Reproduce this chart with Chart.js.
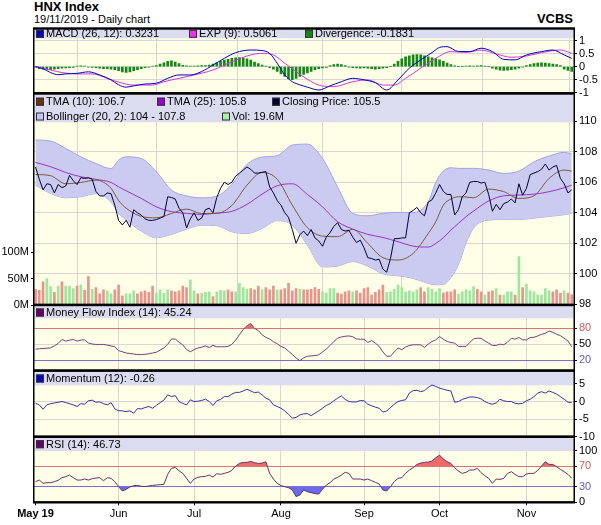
<!DOCTYPE html>
<html>
<head>
<meta charset="utf-8">
<script src="https://cdn.jsdelivr.net/npm/chart.js@4.4.1/dist/chart.umd.min.js"></script>
<style>
body { margin: 0; background: #fff; width: 601px; height: 525px; position: relative; overflow: hidden; font-family: "Liberation Sans", Arial, sans-serif; }
canvas { position: absolute; left: 0; }
.t { position: absolute; white-space: nowrap; color: #000; }
</style>
</head>
<body>
<div class="t" style="left:34px;top:-1px;font-weight:bold;font-size:13px">HNX Index</div>
<div class="t" style="left:34px;top:13px;font-size:11px">19/11/2019 - Daily chart</div>
<div class="t" style="right:28px;top:11px;font-weight:bold;font-size:13px">VCBS</div>
<canvas id="cMacd" width="601" height="84" style="top:18px"></canvas>
<canvas id="cMain" width="601" height="230" style="top:84px"></canvas>
<canvas id="cMfi" width="601" height="84" style="top:296px"></canvas>
<canvas id="cMom" width="601" height="84" style="top:362px"></canvas>
<canvas id="cRsi" width="601" height="97" style="top:428px"></canvas>
<script>
// trading day index 0 = 2 May 2019, 142 = 19 Nov 2019
const monthStarts = [0, 22, 42, 65, 87, 107, 130];
const monthLabels = ['May 19', 'Jun', 'Jul', 'Aug', 'Sep', 'Oct', 'Nov'];

const close = [107.0,106.2,105.5,105.9,105.85,105.3,105.85,105.65,105.75,106.45,
  106.1,105.85,106.3,106.25,106.3,106.2,105.4,105.1,105.1,105.3,
  105.25,104.5,103.5,103.2,103.5,103.05,104.2,104.0,103.85,103.6,
  103.5,103.5,103.55,103.65,103.75,105.05,105.0,104.9,104.3,104.0,
  103.0,103.6,104.0,103.5,103.65,104.2,104.3,104.0,105.0,105.6,
  106.0,105.85,106.0,106.4,106.6,106.8,107.0,106.85,106.6,106.6,
  106.65,106.7,105.7,105.3,104.8,104.5,104.0,103.7,102.9,102.0,
  102.55,102.8,102.5,102.9,102.35,102.15,101.8,102.4,102.7,103.1,
  103.35,102.9,102.8,102.85,102.4,102.05,102.2,101.7,101.05,101.0,
  100.9,100.95,100.3,100.1,101.0,102.3,102.3,102.35,102.35,104.0,
  104.15,104.35,104.0,103.8,104.7,104.85,105.3,105.85,105.4,105.2,
  105.2,103.85,104.2,105.05,105.3,106.0,106.05,106.05,105.95,106.0,
  105.2,104.1,104.55,104.2,104.6,104.7,104.9,104.65,105.9,105.15,
  105.6,106.5,106.6,106.7,106.85,107.2,106.8,107.0,107.1,106.25,
  105.9,105.3,105.5];

// smooth overlays read at these day indices
const bandIdx = [0,4,8,12,16,20,22,24,28,32,36,40,44,48,52,56,60,64,68,72,76,80,84,88,92,96,100,104,106,108,110,112,114,116,120,124,128,132,136,140,142];
const bollUpper = [108.77,108.7,108.22,107.67,107.23,106.9,107.45,107.67,107.56,106.69,105.49,105.11,104.98,105.09,105.86,107.17,107.65,107.74,108.44,108.5,107.56,105.7,103.96,103.8,103.96,104.02,104.02,104.72,106.0,106.73,106.95,106.91,106.91,106.91,106.8,106.58,106.73,107.34,107.72,107.96,107.85];
const bollLower = [105.81,105.27,104.98,105.05,105.25,104.7,103.96,103.52,102.8,102.36,102.58,102.93,103.19,103.15,102.75,102.64,102.97,103.48,103.19,101.88,100.45,100.5,100.8,100.5,100.0,99.87,99.7,99.37,99.28,99.3,99.75,100.6,102.0,103.0,103.52,103.56,103.56,103.65,103.76,103.87,103.96];
const tma10 = [106.51,106.43,105.9,105.99,106.14,105.6,104.8,104.3,103.76,103.67,103.95,104.24,103.95,103.96,104.48,105.81,106.64,106.2,104.5,103.02,102.47,102.43,102.91,101.99,101.05,100.9,101.33,102.64,103.41,104.5,104.9,105.05,105.03,104.98,105.55,105.38,104.94,105.11,106.25,106.8,106.73];
const tma25 = [107.3,107.02,106.64,106.36,106.19,105.99,105.7,105.44,104.94,104.39,104.07,103.96,103.89,103.98,104.09,104.55,105.22,105.77,105.9,105.2,104.39,103.41,102.93,102.58,102.38,102.1,101.81,101.75,101.99,102.36,102.86,103.3,103.74,104.11,104.77,105.11,105.16,105.22,105.38,105.64,105.81];

// volume in millions, 1 = up day
const volume = [30,28,44,50,35,24,36,44,36,36,31,36,38,28,54,30,33,21,29,27,21,29,38,17.5,21,21,27,21,25,27,24,36,22,29,22,29,27,25,27,36,33,48,27,21,22,24,25,16,25,28,27,29,25,25,41,33,30,31,29,36,29,33,29,36,29,29,31,41,27,31,30,
  29,29,30,33,30,25,22.5,31,31,22.5,20.6,25,27,25,27,22.5,31,33,19,24,29,37.7,24,25,30,37.7,33,25,27,25,29,33,25,33,30,25,31,22.5,25,25,29,20.6,25,29,27,35,30,25,19,25,27,31,19,19,25,25,19,92,33,40,27,25,19,19,31,27,25,29,22.5,27,22.5,19.6];
const volUp = [0,0,0,1,1,0,1,0,1,1,1,0,1,0,0,1,0,0,0,1,1,0,0,0,1,1,1,0,0,0,0,0,1,1,1,1,0,0,0,0,0,1,1,0,1,1,1,0,1,1,1,0,0,1,1,1,1,0,0,0,1,0,0,0,1,0,0,0,0,0,1,
  0,0,0,0,0,1,1,1,1,0,0,0,0,1,0,0,0,0,0,0,0,0,1,1,1,1,1,1,1,1,1,0,0,1,1,1,1,0,0,0,0,1,1,1,1,1,0,0,1,0,0,1,0,1,1,1,0,1,0,1,1,1,1,1,1,1,0,0,0,1,0,0];

const macdIdx = [0,2,4,6,8,11,14,17,20,22,24,26,29,32,35,38,41,44,47,50,53,57,60,62,64,66,68,70,72,75,78,81,84,87,90,93,96,99,102,105,107,109,112,115,118,121,124,127,130,134,137,140,142];
const macd = [0,-0.08,-0.23,-0.31,-0.28,-0.26,-0.2,-0.32,-0.51,-0.7,-0.79,-0.74,-0.67,-0.64,-0.45,-0.32,-0.32,-0.19,0.06,0.32,0.54,0.64,0.62,0.51,0.13,-0.32,-0.58,-0.7,-0.79,-0.9,-0.74,-0.58,-0.45,-0.51,-0.62,-0.9,-0.51,-0.06,0.26,0.54,0.74,0.77,0.58,0.58,0.71,0.58,0.28,0.26,0.45,0.58,0.64,0.45,0.32];
const expIdx = [0,4,7,11,15,19,23,26,31,34,38,42,47,52,57,60,63,66,69,72,75,79,84,88,92,95,98,102,106,110,114,118,122,126,130,134,139,142];
const expSig = [0,-0.13,-0.23,-0.28,-0.28,-0.45,-0.64,-0.71,-0.71,-0.58,-0.45,-0.32,-0.13,0.19,0.45,0.51,0.45,0.13,-0.19,-0.49,-0.71,-0.77,-0.58,-0.51,-0.71,-0.71,-0.45,-0.06,0.32,0.58,0.55,0.64,0.49,0.36,0.41,0.54,0.64,0.51];
const divergence = [-0.02,-0.08,-0.1,-0.1,-0.12,-0.1,-0.08,-0.06,-0.05,-0.04,-0.03,
  0.02,0.03,0.02,-0.02,-0.03,-0.04,-0.06,-0.08,-0.08,-0.1,-0.12,
  -0.16,-0.2,-0.22,-0.2,-0.16,-0.12,-0.08,-0.04,-0.02,0.02,0.04,
  0.1,0.15,0.2,0.22,0.18,0.12,0.05,0.03,0.02,0.02,0.03,0.04,0.04,0.06,0.1,
  0.15,0.2,0.25,0.28,0.32,0.34,0.35,0.33,0.3,0.25,0.18,0.12,0.06,0.02,-0.04,-0.1,
  -0.18,-0.28,-0.38,-0.46,-0.5,-0.45,-0.38,-0.3,-0.24,-0.18,-0.12,-0.08,-0.05,-0.03,
  0.04,0.08,0.1,0.08,0.04,
  -0.02,-0.04,-0.05,-0.06,-0.05,-0.06,-0.08,-0.1,-0.08,-0.06,-0.04,0.0,
  0.1,0.2,0.3,0.38,0.42,0.45,0.46,0.45,0.42,0.38,0.34,0.3,0.26,0.2,0.14,0.08,0.03,
  0.0,0.0,0.02,0.03,0.02,0.03,0.04,0.02,0.0,
  -0.06,-0.1,-0.14,-0.15,-0.14,-0.12,-0.1,-0.06,-0.02,
  0.04,0.08,0.12,0.14,0.15,0.14,0.12,0.1,0.08,0.04,-0.1,-0.15,-0.18];

const mfi = [40.8,41.5,42.1,42.5,43.4,47,51.6,59.2,56,57.9,59.2,56,57.9,58.5,52.5,50.5,49.7,49.7,49.7,48.5,47,45.3,38,35.8,33.5,32.6,31.5,30.7,30.5,31,32,33.5,35,39,43,50,60,60,54,49,40,35.8,40,43,44.5,47,44,48,45.3,45.3,45.3,46,50,58,68,78,85,89.5,80,76,68,63,60,55,51,46,43,37,31,24,19,
  24.3,27.4,28,28.7,30,35.5,41,47.8,55.3,61.4,63.9,65.2,65.8,64.5,60.2,59.6,59.6,53.4,57.1,52.2,46,35.5,27.4,27.4,35.5,42.9,39.8,44.7,47.8,49.1,49.1,49.1,44.1,50.3,55.3,58.4,64.5,59.6,55.3,53.4,52.2,46,46,46,53.4,60.2,61.4,61.4,56.5,52.2,47.8,47.8,50.3,49.1,54,61.4,59.6,62.7,58.4,58.4,62.7,63.3,65.8,68.9,70.7,75.1,72.6,68.9,66.4,61.4,56.5,45.2];
const momentum = [-0.47,-0.95,-2.2,-0.95,-0.6,-0.4,-0.2,0,-0.3,-0.6,-0.95,-1.4,-0.6,-0.76,0.2,0.4,-0.2,-0.1,-0.6,-0.95,-0.3,-2.1,-2.6,-2.65,-2.85,-2.65,-3.3,-2.0,-2.1,-1.7,-1.4,-1.9,-1.1,-0.3,0.4,1.9,1.4,1.7,0,-0.5,-0.95,0.5,0,0.1,0.3,0.7,0,-1.1,0.2,0.6,1.4,1.4,2.1,2.6,2.6,3.0,3.5,3.0,2.5,2.7,1.9,0.95,0.5,-0.95,-1.4,-1.9,-2.65,-3.6,-4.7,-4.5,-3.8,
  -3.5,-3.4,-4.0,-3.3,-2.65,-1.9,-1.1,-0.6,0.2,0.95,1.6,0.6,0,-0.1,-0.1,0.3,0.2,-0.76,-1.2,-1.6,-1.9,-3.0,-2.65,-1.7,-0.76,0,0.3,0.5,2.4,3.1,3.2,2.8,3.1,4.0,4.7,4.3,3.8,3.5,3.2,3.0,-0.2,0,0.6,0.95,1.3,1.3,1.1,0.76,0,-0.5,-0.76,-0.4,0.66,0.2,0,0,-0.5,-0.66,-0.5,0.2,0.66,1.4,2.4,2.8,2.4,3.0,2.6,2.1,1.4,0.66,-0.2,-0.26];
const rsi = [40,43.2,36.8,38.1,38.1,40,42.6,47.7,49.7,52.9,47.7,43.2,43.2,45.2,43.2,45.8,47.1,47.7,41.9,47.7,46.5,40,30.3,21.9,25.2,29.7,32.3,32.9,31,30.5,31.6,32.9,33.5,34.2,34.8,54.2,65.8,67.7,61.3,56.1,46.5,36.8,45.2,48.4,49.7,50.3,52.9,49,55.5,54.2,56.1,58.1,61.9,70.3,75.5,77.4,77.4,79.4,76.8,75.5,76.1,78.7,56.1,45.2,36.8,32.3,30.3,28.4,23.9,11,14.2,
  23.9,20.6,18.7,16.8,16.1,25.2,33.5,38.1,45.2,48.4,52.9,58.1,56.1,45.2,45.2,45.2,43.2,45.2,41.9,38.7,35.5,23.9,21.9,30.3,40,46.5,47.7,56.1,62.6,67.1,73.5,76.1,77.4,78,80,86.5,91.6,83.9,78.7,75.5,67.1,60.6,56.1,58.1,62.6,62.6,65.8,57.4,51.6,46.5,36.8,45.2,44.5,46.5,56.1,59.4,54.2,49.7,49.7,54.8,56.1,56.1,61.9,70.3,78.7,73.5,73.5,69,63.9,59.4,54.2,46.7];

const family = '"Liberation Sans", Arial, sans-serif';
const font = { family, size: 11 };
const gridGray = '#d6d6d6';
const hiLine = '#d47a7a', loLine = '#7676c4';

const daily = ys => ys.map((y, i) => ({ x: i, y }));
const pts = (xs, ys) => ys.map((y, i) => ({ x: xs[i], y }));

// lavender legend band, plot background and black frame
function panel(bandH, items) {
  return {
    id: 'panel',
    beforeDraw(chart) {
      const a = chart.chartArea, c = chart.ctx;
      c.save();
      c.fillStyle = '#ffffe8';
      c.fillRect(a.left, a.top, a.width, a.height);
      c.restore();
    },
    beforeDatasetsDraw(chart) {
      const a = chart.chartArea, c = chart.ctx;
      c.save();
      c.fillStyle = '#dcdcf0';
      c.fillRect(a.left, a.top, a.width, bandH);
      c.font = '11px ' + family;
      c.textBaseline = 'middle';
      items.forEach(it => {
        const x = a.left + it[0], y = a.top + it[1];
        c.fillStyle = it[3];
        c.fillRect(x, y - 4, 8, 8);
        c.strokeStyle = '#333';
        c.lineWidth = 1;
        c.strokeRect(x + 0.5, y - 3.5, 7, 7);
        c.fillStyle = '#000';
        c.fillText(it[2], x + 10, y + 0.5);
      });
      c.restore();
    },
    afterDraw(chart) {
      const a = chart.chartArea, c = chart.ctx;
      c.save();
      c.fillStyle = '#000';
      c.fillRect(a.left - 1, a.top - 1.2, a.width + 2, 2.4);
      c.fillRect(a.left - 1, a.bottom - 1.2, a.width + 2, 2.4);
      c.fillRect(a.left - 1, a.top, 1.5, a.height);
      c.fillRect(a.right - 0.5, a.top, 1.5, a.height);
      c.restore();
    }
  };
}

function xAxis(showLabels) {
  return {
    type: 'linear', min: -0.4, max: 142.6, offset: false,
    afterBuildTicks: s => { s.ticks = monthStarts.map(v => ({ value: v })); },
    afterFit: s => { s.height = showLabels ? 22.7 : 0; },
    grid: { color: c => c.index === 0 ? 'rgba(0,0,0,0)' : gridGray, drawTicks: showLabels, tickLength: 3, tickColor: '#000' },
    border: { display: false },
    ticks: {
      display: showLabels, autoSkip: false, maxRotation: 0, padding: 2, color: '#000',
      font: c => ({ family, size: 11, weight: c.index === 0 ? 'bold' : 'normal' }),
      callback: v => monthLabels[monthStarts.indexOf(v)]
    }
  };
}

function rightAxis(min, max, values, lineColor, labelColor) {
  return {
    position: 'right', min, max,
    afterFit: s => { s.width = 27; },
    afterBuildTicks: s => { s.ticks = values.map(v => ({ value: v })); },
    grid: { color: lineColor || gridGray, tickLength: 3, tickColor: '#000' },
    border: { display: false },
    ticks: { font, color: labelColor || '#000', padding: 2, autoSkip: false, callback: v => String(v) }
  };
}

function base(padTop, padBottom, padLeft, scales, plugins) {
  return {
    responsive: false, animation: false,
    layout: { padding: { top: padTop, bottom: padBottom, left: padLeft, right: 0 } },
    plugins: { legend: { display: false }, tooltip: { enabled: false } },
    elements: { point: { radius: 0 }, line: { borderWidth: 1 } },
    scales
  };
}

const thresholdColor = (hi, lo) => c => c.tick.value === hi ? hiLine : c.tick.value === lo ? loLine : gridGray;
const thresholdLabel = (hi, lo) => c => c.tick.value === hi ? '#c86060' : c.tick.value === lo ? '#5c5cb8' : '#000';

// MACD
new Chart(document.getElementById('cMacd'), {
  type: 'line',
  data: { datasets: [
    { data: pts(macdIdx, macd), borderColor: '#0000cc', cubicInterpolationMode: 'monotone', order: 1 },
    { data: pts(expIdx, expSig), borderColor: '#dd33dd', cubicInterpolationMode: 'monotone', order: 2 },
    { type: 'bar', data: daily(divergence), backgroundColor: '#118811', barThickness: 2, order: 3 }
  ] },
  options: base(10.5, 8.5, 34, {
    x: xAxis(false),
    y: rightAxis(-1.031, 1.469, [-1, -0.5, 0, 0.5, 1])
  }),
  plugins: [panel(9.8, [[2, 5.3, 'MACD (26, 12): 0.3231', '#0000cc'], [155, 5.3, 'EXP (9): 0.5061', '#ee33ee'], [271, 5.3, 'Divergence: -0.1831', '#118811']])]
});

// Price, overlays and volume
new Chart(document.getElementById('cMain'), {
  type: 'line',
  data: { datasets: [
    { data: daily(close), borderColor: '#000033', order: 1, yAxisID: 'y' },
    { data: pts(bandIdx, tma10), borderColor: '#7a5a3a', cubicInterpolationMode: 'monotone', order: 2, yAxisID: 'y' },
    { data: pts(bandIdx, tma25), borderColor: '#9933cc', cubicInterpolationMode: 'monotone', order: 3, yAxisID: 'y' },
    { data: pts(bandIdx, bollUpper), borderColor: '#a4a4e2', backgroundColor: '#cbcbf2', fill: '+1', cubicInterpolationMode: 'monotone', order: 4, yAxisID: 'y' },
    { data: pts(bandIdx, bollLower), borderColor: '#a4a4e2', fill: false, cubicInterpolationMode: 'monotone', order: 4, yAxisID: 'y' },
    { type: 'bar', data: daily(volume), backgroundColor: volUp.map(u => u ? '#9de69d' : '#e8948c'), barThickness: 2, order: 6, yAxisID: 'yv' }
  ] },
  options: base(9.5, 9, 0, {
    x: xAxis(false),
    y: rightAxis(97.95, 111.82, [98, 100, 102, 104, 106, 108, 110]),
    yv: {
      position: 'left', min: 0, max: 402,
      afterFit: s => { s.width = 34; },
      afterBuildTicks: s => { s.ticks = [0, 50, 100].map(v => ({ value: v })); },
      grid: { drawOnChartArea: false, tickLength: 3, tickColor: '#000' },
      border: { display: false },
      ticks: { font, color: '#000', padding: 2, autoSkip: false, callback: v => v + 'M' }
    }
  }),
  plugins: [panel(28.8, [
    [2, 8.2, 'TMA (10): 106.7', '#663311'], [123, 8.2, 'TMA (25): 105.8', '#9900cc'], [238, 8.2, 'Closing Price: 105.5', '#000033'],
    [2, 23, 'Bollinger (20, 2): 104 - 107.8', '#c4c4f4'], [188, 23, 'Vol: 19.6M', '#a8f0a8']
  ])]
});

// Money Flow Index
new Chart(document.getElementById('cMfi'), {
  type: 'line',
  data: { datasets: [
    { data: daily(mfi), borderColor: '#7a3f7a', fill: { target: { value: 80 }, above: '#f06a6a', below: 'rgba(0,0,0,0)' } },
    { data: daily(mfi), borderWidth: 0, borderColor: 'rgba(0,0,0,0)', fill: { target: { value: 20 }, above: 'rgba(0,0,0,0)', below: '#6a6aee' } }
  ] },
  options: base(9, 9.3, 34, {
    x: xAxis(false),
    y: rightAxis(0, 124.4, [20, 50, 80], thresholdColor(80, 20), thresholdLabel(80, 20))
  }),
  plugins: [panel(13.3, [[2, 7.5, 'Money Flow Index (14): 45.24', '#660066']])]
});

// Momentum
new Chart(document.getElementById('cMom'), {
  type: 'line',
  data: { datasets: [ { data: daily(momentum), borderColor: '#3333aa' } ] },
  options: base(8.7, 9.2, 34, {
    x: xAxis(false),
    y: rightAxis(-10, 8.75, [-10, -5, 0, 5])
  }),
  plugins: [panel(14.6, [[2, 7.8, 'Momentum (12): -0.26', '#0000cc']])]
});

// RSI
new Chart(document.getElementById('cRsi'), {
  type: 'line',
  data: { datasets: [
    { data: daily(rsi), borderColor: '#6a2f6a', fill: { target: { value: 70 }, above: '#f06a6a', below: 'rgba(0,0,0,0)' } },
    { data: daily(rsi), borderWidth: 0, borderColor: 'rgba(0,0,0,0)', fill: { target: { value: 30 }, above: 'rgba(0,0,0,0)', below: '#6a6aee' } }
  ] },
  options: base(8.8, 0, 34, {
    x: xAxis(true),
    y: rightAxis(0, 127.1, [0, 30, 70, 100], thresholdColor(70, 30), thresholdLabel(70, 30))
  }),
  plugins: [panel(14, [[2, 7.4, 'RSI (14): 46.73', '#660066']])]
});
</script>
</body>
</html>
